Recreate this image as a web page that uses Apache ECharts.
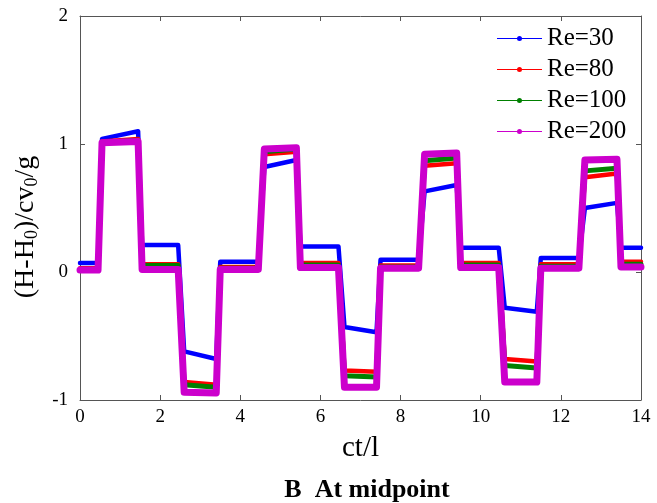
<!DOCTYPE html>
<html><head><meta charset="utf-8">
<script src="https://cdn.jsdelivr.net/npm/echarts@6/dist/echarts.min.js"></script>
<style>html,body{margin:0;padding:0;background:#fff}#c{width:657px;height:503px}</style>
</head><body><div id="c"></div>
<script>
var xs = [0,0.45,0.55,1.45,1.55,2.45,2.6,3.4,3.5,4.45,4.6,5.4,5.5,6.45,6.6,7.4,7.5,8.45,8.6,9.4,9.5,10.45,10.6,11.4,11.5,12.45,12.6,13.4,13.5,14];
var re30  = [0.07,0.07,1.04,1.10,0.21,0.21,-0.62,-0.68,0.08,0.08,0.82,0.875,0.20,0.20,-0.43,-0.47,0.095,0.095,0.63,0.68,0.19,0.19,-0.28,-0.31,0.11,0.11,0.50,0.54,0.19,0.19];
var re80  = [0.03,0.03,1.02,1.04,0.06,0.06,-0.86,-0.88,0.04,0.04,0.92,0.94,0.07,0.07,-0.77,-0.78,0.05,0.05,0.83,0.85,0.07,0.07,-0.68,-0.70,0.06,0.06,0.74,0.77,0.08,0.08];
var re100 = [0.02,0.02,1.01,1.03,0.05,0.05,-0.88,-0.90,0.03,0.03,0.94,0.96,0.055,0.055,-0.81,-0.82,0.04,0.04,0.87,0.89,0.055,0.055,-0.73,-0.75,0.045,0.045,0.79,0.81,0.06,0.06];
var re200 = [0.015,0.015,1.01,1.02,0.02,0.02,-0.94,-0.945,0.02,0.02,0.96,0.97,0.035,0.035,-0.90,-0.90,0.03,0.03,0.92,0.93,0.035,0.035,-0.86,-0.86,0.03,0.03,0.875,0.88,0.04,0.04];
var names = ['Re=30','Re=80','Re=100','Re=200'];
var colors = ['#0000ff','#ff0000','#008000','#cc00cc'];
var widths = [4.5,4.5,5,7];

function pts(ys){ return xs.map(function(x,i){return [x,ys[i]];}); }
var all = [re30,re80,re100,re200];
var series = all.map(function(ys,i){
  return {name:names[i], type:'line', data:pts(ys), showSymbol:false, symbol:'circle', symbolSize:5,
    lineStyle:{color:colors[i], width:widths[i], join:'round', cap:'round'}, itemStyle:{color:colors[i]}, z:2+i, animation:false};
});
var font = '"Liberation Serif","DejaVu Serif",serif';
var axCol = '#555';
var legendIcon = 'path://M0,3.4H45V4.6H0Z M22.5,1.5A2.5,2.5 0 1 1 22.5,6.5A2.5,2.5 0 1 1 22.5,1.5Z';
var chart = echarts.init(document.getElementById('c'));
chart.setOption({
  animation:false,
  title:{text:'B  At midpoint', left:362, textAlign:'center', top:472, textStyle:{fontFamily:font, fontWeight:'bold', fontSize:26, color:'#000'}},
  legend:{data:names, left:497, top:26, padding:0, orient:'vertical', itemWidth:45, itemHeight:5, itemGap:6,
    icon:legendIcon, textStyle:{fontFamily:font, fontSize:25, color:'#000'}},
  grid:{left:80, right:16, top:16, bottom:103},
  xAxis:[{type:'value', min:0, max:14, interval:2, name:'ct/l', nameLocation:'middle', nameGap:34,
    nameTextStyle:{fontFamily:font, fontSize:29, color:'#000'},
    axisLine:{show:true, onZero:false, lineStyle:{color:axCol, width:1}}, axisTick:{show:true, inside:true, length:5, lineStyle:{color:axCol}},
    axisLabel:{fontFamily:font, fontSize:19, color:'#000', margin:8}, splitLine:{show:false}},
    {type:'value', position:'top', min:0, max:14, interval:2, axisLine:{show:true, onZero:false, lineStyle:{color:axCol}}, axisTick:{show:true, inside:true, length:5, lineStyle:{color:axCol}}, axisLabel:{show:false}, splitLine:{show:false}}],
  yAxis:[{type:'value', min:-1, max:2, interval:1, name:'{a|(H-H}{s|0}{a|)/cv}{s|0}{a|/g}{p|}', nameLocation:'middle', nameGap:38, nameRotate:90,
    nameTextStyle:{rich:{a:{fontFamily:font, fontSize:28, color:'#000'}, s:{fontFamily:font, fontSize:18, color:'#000', verticalAlign:'bottom', padding:[14,0,0,0]}, p:{width:38, fontSize:28}}},
    axisLine:{show:true, onZero:false, lineStyle:{color:axCol, width:1}}, axisTick:{show:true, inside:true, length:5, lineStyle:{color:axCol}},
    axisLabel:{fontFamily:font, fontSize:19, color:'#000', margin:12}, splitLine:{show:false}},
    {type:'value', position:'right', min:-1, max:2, interval:1, axisLine:{show:true, onZero:false, lineStyle:{color:axCol}}, axisTick:{show:true, inside:true, length:5, lineStyle:{color:axCol}}, axisLabel:{show:false}, splitLine:{show:false}}],
  series:series
});
</script></body></html>
